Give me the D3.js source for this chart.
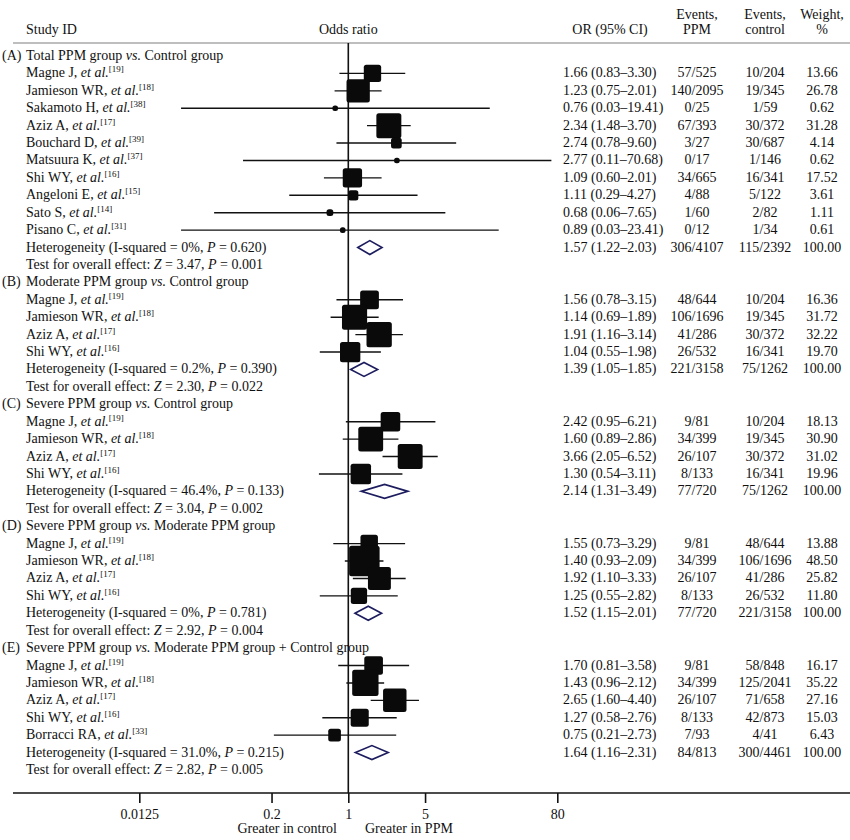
<!DOCTYPE html>
<html><head><meta charset="utf-8">
<script src="https://cdn.jsdelivr.net/npm/d3@7"></script>
<style>
body{margin:0;background:#fff}
svg{display:block}
text{font-family:"Liberation Serif","Times New Roman",serif;font-size:14px;fill:#111}
</style>
</head><body><svg id="c" width="850" height="840"></svg>
<script>
// ---------- data ----------
const sectionLetters = ["(A)","(B)","(C)","(D)","(E)"];
const sectionLeft = ["Total PPM group","Moderate PPM group","Severe PPM group","Severe PPM group","Severe PPM group"];
const sectionRight = ["Control group","Control group","Control group","Moderate PPM group","Moderate PPM group + Control group"];

const studySection = [0,0,0,0,0,0,0,0,0,0, 1,1,1,1, 2,2,2,2, 3,3,3,3, 4,4,4,4,4];
const studyNames = ["Magne J","Jamieson WR","Sakamoto H","Aziz A","Bouchard D","Matsuura K","Shi WY","Angeloni E","Sato S","Pisano C",
  "Magne J","Jamieson WR","Aziz A","Shi WY",
  "Magne J","Jamieson WR","Aziz A","Shi WY",
  "Magne J","Jamieson WR","Aziz A","Shi WY",
  "Magne J","Jamieson WR","Aziz A","Shi WY","Borracci RA"];
const studyRefs = [19,18,38,17,39,37,16,15,14,31, 19,18,17,16, 19,18,17,16, 19,18,17,16, 19,18,17,16,33];
const studyOR = [1.66,1.23,0.76,2.34,2.74,2.77,1.09,1.11,0.68,0.89, 1.56,1.14,1.91,1.04, 2.42,1.60,3.66,1.30, 1.55,1.40,1.92,1.25, 1.70,1.43,2.65,1.27,0.75];
const studyLower = [0.83,0.75,0.03,1.48,0.78,0.11,0.60,0.29,0.06,0.03, 0.78,0.69,1.16,0.55, 0.95,0.89,2.05,0.54, 0.73,0.93,1.10,0.55, 0.81,0.96,1.60,0.58,0.21];
const studyUpper = [3.30,2.01,19.41,3.70,9.60,70.68,2.01,4.27,7.65,23.41, 3.15,1.89,3.14,1.98, 6.21,2.86,6.52,3.11, 3.29,2.09,3.33,2.82, 3.58,2.12,4.40,2.76,2.73];
const eventsPPM = ["57/525","140/2095","0/25","67/393","3/27","0/17","34/665","4/88","1/60","0/12",
  "48/644","106/1696","41/286","26/532",
  "9/81","34/399","26/107","8/133",
  "9/81","34/399","26/107","8/133",
  "9/81","34/399","26/107","8/133","7/93"];
const eventsControl = ["10/204","19/345","1/59","30/372","30/687","1/146","16/341","5/122","2/82","1/34",
  "10/204","19/345","30/372","16/341",
  "10/204","19/345","30/372","16/341",
  "48/644","106/1696","41/286","26/532",
  "58/848","125/2041","71/658","42/873","4/41"];
const studyWeight = [13.66,26.78,0.62,31.28,4.14,0.62,17.52,3.61,1.11,0.61,
  16.36,31.72,32.22,19.70,
  18.13,30.90,31.02,19.96,
  13.88,48.50,25.82,11.80,
  16.17,35.22,27.16,15.03,6.43];

const pooledOR = [1.57,1.39,2.14,1.52,1.64];
const pooledLower = [1.22,1.05,1.31,1.15,1.16];
const pooledUpper = [2.03,1.85,3.49,2.01,2.31];
const pooledEventsPPM = ["306/4107","221/3158","77/720","77/720","84/813"];
const pooledEventsControl = ["115/2392","75/1262","75/1262","221/3158","300/4461"];
const hetI2 = ["0%","0.2%","46.4%","0%","31.0%"];
const hetP = ["0.620","0.390","0.133","0.781","0.215"];
const testZ = ["3.47","2.30","3.04","2.92","2.82"];
const testP = ["0.001","0.022","0.002","0.004","0.005"];

const tickValues = [0.0125,0.2,1,5,80];
const tickLabels = ["0.0125","0.2","1","5","80"];

// ---------- layout ----------
const svg = d3.select("#c");
const x = d3.scaleLog().domain([0.0125,80]).range([139.3,557.3]);
const nRows = 42;
const y = d3.scaleLinear().domain([0,41]).range([56,770]);
const boxSize = d3.scaleSqrt().domain([0,100]).range([0,40.2]);
const fmt = d3.format(".2f");
const TB = 4; // text baseline offset
const colName = 26, colLetter = 2, colOR = 563, colEvP = 697, colEvC = 765, colW = 822;
const axisY = 793, headerLineY = 43;

// Build rows
const rows = [];
let k = 0;
for (let s = 0; s < 5; s++) {
  rows.push({type:"header", s, k: k++});
  studySection.forEach((sec, i) => { if (sec === s) rows.push({type:"study", s, i, k: k++}); });
  rows.push({type:"het", s, k: k++});
  rows.push({type:"test", s, k: k++});
}

// ---------- header ----------
svg.append("text").attr("x",colName).attr("y",33.5).text("Study ID");
svg.append("text").attr("x",x(1)).attr("y",33.5).attr("text-anchor","middle").text("Odds ratio");
svg.append("text").attr("x",610).attr("y",33.5).attr("text-anchor","middle").text("OR (95% CI)");
[[colEvP,"Events,","PPM"],[colEvC,"Events,","control"],[colW,"Weight,","%"]].forEach(([cx,a,b]) => {
  svg.append("text").attr("x",cx).attr("y",19).attr("text-anchor","middle").text(a);
  svg.append("text").attr("x",cx).attr("y",33.5).attr("text-anchor","middle").text(b);
});
svg.append("line").attr("x1",13).attr("x2",850).attr("y1",headerLineY).attr("y2",headerLineY)
  .attr("stroke","#a8a8a8").attr("stroke-width",1.5);

// ---------- null line ----------
svg.append("line").attr("x1",x(1)).attr("x2",x(1)).attr("y1",headerLineY).attr("y2",axisY)
  .attr("stroke","#111").attr("stroke-width",1.6);

// ---------- left text ----------
rows.forEach(r => {
  const yy = y(r.k) + TB;
  if (r.type === "header") {
    svg.append("text").attr("x",colLetter).attr("y",yy).text(sectionLetters[r.s]);
    const t = svg.append("text").attr("x",colName).attr("y",yy);
    t.append("tspan").text(sectionLeft[r.s] + " ");
    t.append("tspan").attr("font-style","italic").text("vs.");
    t.append("tspan").text(" " + sectionRight[r.s]);
  } else if (r.type === "study") {
    const t = svg.append("text").attr("x",colName).attr("y",yy);
    t.append("tspan").text(studyNames[r.i] + ", ");
    t.append("tspan").attr("font-style","italic").text("et al.");
    t.append("tspan").attr("font-size","9px").attr("dy",-5).text("[" + studyRefs[r.i] + "]");
    svg.append("text").attr("x",colOR).attr("y",yy)
      .text(fmt(studyOR[r.i]) + " (" + fmt(studyLower[r.i]) + "\u2013" + fmt(studyUpper[r.i]) + ")");
    svg.append("text").attr("x",colEvP).attr("y",yy).attr("text-anchor","middle").text(eventsPPM[r.i]);
    svg.append("text").attr("x",colEvC).attr("y",yy).attr("text-anchor","middle").text(eventsControl[r.i]);
    svg.append("text").attr("x",colW).attr("y",yy).attr("text-anchor","middle").text(fmt(studyWeight[r.i]));
  } else if (r.type === "het") {
    const t = svg.append("text").attr("x",colName).attr("y",yy);
    t.append("tspan").text("Heterogeneity (I-squared = " + hetI2[r.s] + ", ");
    t.append("tspan").attr("font-style","italic").text("P");
    t.append("tspan").text(" = " + hetP[r.s] + ")");
    svg.append("text").attr("x",colOR).attr("y",yy)
      .text(fmt(pooledOR[r.s]) + " (" + fmt(pooledLower[r.s]) + "\u2013" + fmt(pooledUpper[r.s]) + ")");
    svg.append("text").attr("x",colEvP).attr("y",yy).attr("text-anchor","middle").text(pooledEventsPPM[r.s]);
    svg.append("text").attr("x",colEvC).attr("y",yy).attr("text-anchor","middle").text(pooledEventsControl[r.s]);
    svg.append("text").attr("x",colW).attr("y",yy).attr("text-anchor","middle").text(fmt(100));
  } else {
    const t = svg.append("text").attr("x",colName).attr("y",yy);
    t.append("tspan").text("Test for overall effect: ");
    t.append("tspan").attr("font-style","italic").text("Z");
    t.append("tspan").text(" = " + testZ[r.s] + ", ");
    t.append("tspan").attr("font-style","italic").text("P");
    t.append("tspan").text(" = " + testP[r.s]);
  }
});

// ---------- CI lines and boxes ----------
const studyRows = rows.filter(r => r.type === "study");
svg.append("g").selectAll("line").data(studyRows).join("line")
  .attr("x1", r => x(studyLower[r.i])).attr("x2", r => x(studyUpper[r.i]))
  .attr("y1", r => y(r.k)).attr("y2", r => y(r.k))
  .attr("stroke","#111").attr("stroke-width",1.4);
svg.append("g").selectAll("rect").data(studyRows).join("rect")
  .each(function(r){
    const side = 2.5 + boxSize(studyWeight[r.i]);
    d3.select(this).attr("x", x(studyOR[r.i]) - side/2).attr("y", y(r.k) - side/2)
      .attr("width", side).attr("height", side)
      .attr("rx", Math.min(2.5, side/2)).attr("ry", Math.min(2.5, side/2));
  })
  .attr("fill","#0a0a0a");

// ---------- diamonds ----------
const hetRows = rows.filter(r => r.type === "het");
svg.append("g").selectAll("path").data(hetRows).join("path")
  .attr("d", r => {
    const yc = y(r.k), h = 7;
    return `M${x(pooledLower[r.s])},${yc}L${x(pooledOR[r.s])},${yc-h}L${x(pooledUpper[r.s])},${yc}L${x(pooledOR[r.s])},${yc+h}Z`;
  })
  .attr("fill","#fff").attr("stroke","#1c1c5e").attr("stroke-width",1.6);

// ---------- axis ----------
svg.append("line").attr("x1",13).attr("x2",850).attr("y1",axisY).attr("y2",axisY)
  .attr("stroke","#111").attr("stroke-width",1.6);
const ax = svg.append("g").attr("transform",`translate(0,${axisY})`)
  .call(d3.axisBottom(x).tickValues(tickValues).tickFormat((d,i)=>tickLabels[i]).tickSize(10).tickPadding(6));
ax.select(".domain").remove();
ax.attr("font-family",null).attr("font-size",null);
ax.selectAll("line").attr("stroke","#111").attr("stroke-width",1.6);
ax.selectAll("text").attr("fill","#111");

svg.append("text").attr("x",337).attr("y",833).attr("text-anchor","end").text("Greater in control");
svg.append("text").attr("x",365).attr("y",833).text("Greater in PPM");
</script>
</body></html>
